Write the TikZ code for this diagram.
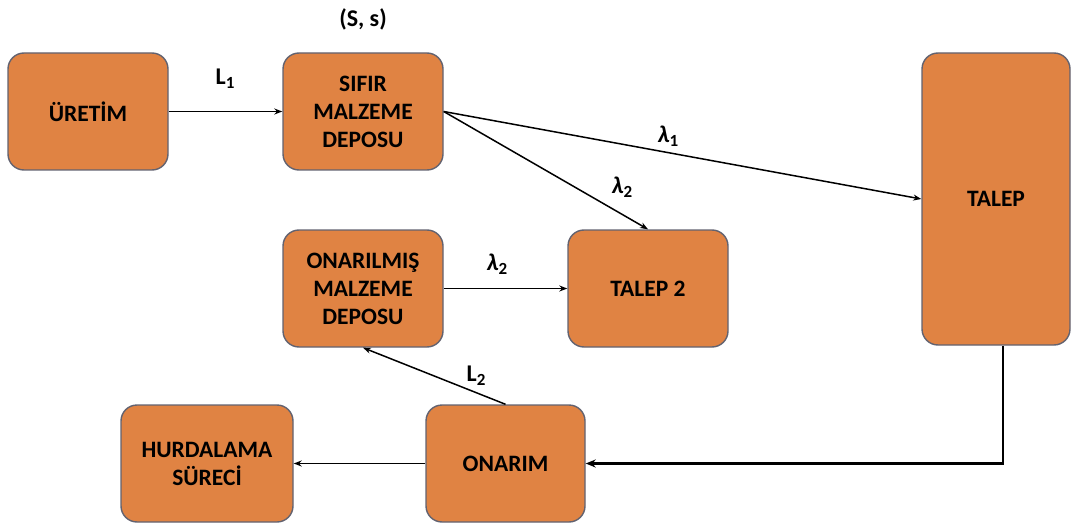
\documentclass[tikz,border=0pt]{standalone}
\usepackage{fontspec}
\setmainfont{Carlito}
\usetikzlibrary{arrows.meta}
\definecolor{boxfill}{RGB}{224,131,67}
\definecolor{boxline}{RGB}{98,98,112}
\tikzset{
  box/.style={draw=boxline, line width=1.4pt, fill=boxfill, rounded corners=16pt,
    align=center, font=\fontsize{23.5}{28}\selectfont\bfseries, inner sep=0pt},
  conn/.style={line width=1.5pt, -{Stealth[length=8pt,width=6pt]}},
  thickconn/.style={line width=2.8pt, -{Stealth[length=10pt,width=8pt]}},
  lbl/.style={font=\fontsize{24}{28}\selectfont\bfseries, inner sep=0pt}
}
\newcommand{\lam}[1]{{\itshape λ}\raisebox{-0.35ex}{\fontsize{17}{17}\selectfont #1}}
\newcommand{\Lsub}[1]{L\raisebox{-0.35ex}{\fontsize{17}{17}\selectfont #1}}
\begin{document}
\begin{tikzpicture}[x=1pt,y=-1pt]
\useasboundingbox (0,0) rectangle (1071,524);
\node[box, minimum width=160pt, minimum height=117pt] (uretim) at (88,111.5) {ÜRETİM};
\node[box, minimum width=160pt, minimum height=117pt] (sifir) at (363,111.5) {SIFIR\\MALZEME\\DEPOSU};
\node[box, minimum width=148pt, minimum height=292pt] (talep) at (996,199) {TALEP};
\node[box, minimum width=160pt, minimum height=117pt] (talep2) at (648,288.5) {TALEP 2};
\node[box, minimum width=160pt, minimum height=117pt] (onarilmis) at (363,288.5) {ONARILMIŞ\\MALZEME\\DEPOSU};
\node[box, minimum width=159pt, minimum height=117pt] (onarim) at (505.5,463.5) {ONARIM};
\node[box, minimum width=172pt, minimum height=117pt] (hurda) at (207,463.5) {HURDALAMA\\SÜRECİ};
\node[lbl] (ss) at (363,19) {(S, s)};
\draw[conn] (uretim.east) -- (sifir.west);
\node[lbl] (l1) at (225,79) {\Lsub{1}};
\draw[conn] (sifir.east) -- (talep.west);
\node[lbl] (lam1) at (668,136) {\lam{1}};
\draw[conn] (sifir.east) -- (talep2.north);
\node[lbl] (lam2a) at (622,187) {\lam{2}};
\draw[conn] (onarilmis.east) -- (talep2.west);
\node[lbl] (lam2b) at (497,264) {\lam{2}};
\draw[conn] (onarim.north) -- (onarilmis.south);
\node[lbl] (l2) at (476,376) {\Lsub{2}};
\draw[thickconn] ([xshift=7pt]talep.south) |- (onarim.east);
\draw[conn] (onarim.west) -- (hurda.east);
\end{tikzpicture}
\end{document}
